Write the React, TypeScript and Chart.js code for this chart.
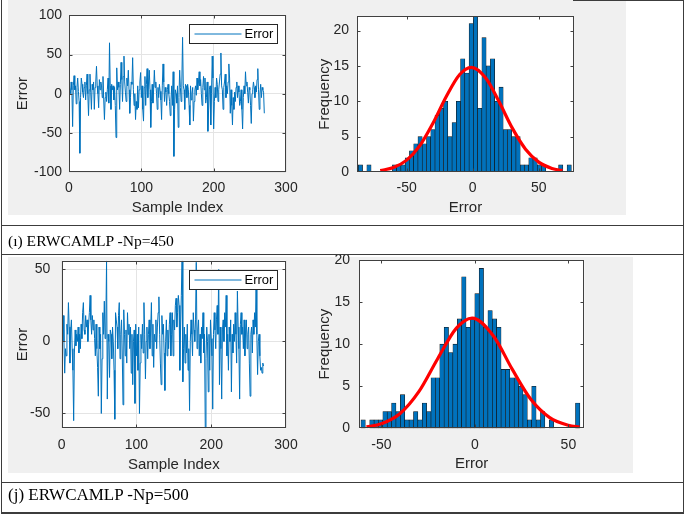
import React, { useEffect, useRef } from 'react';
import { Chart, registerables } from 'chart.js';
Chart.register(...registerables);

const W = 685;
const H = 514;
const FONT = "'Liberation Sans', Arial, sans-serif";
const TXT = '#262626';
const AX = '#404040';
const GRID = '#e4e4e4';
const BLUE = '#0072BD';

// ---------- data ----------
const errorsNp450 = [
  7, 0, 15, 5, -42, 10, 23, 5, 10, -13,
  8, 20, 3, -10, -76, -5, 20, 12, 2, -5,
  8, 15, -8, 10, 25, 0, -28, 5, 25, 2,
  -20, 12, 5, 15, -20, 8, 15, 35, 10, 0,
  -18, 18, 5, 15, 10, -5, 22, -8, -33, -5,
  2, -10, 5, 20, -12, 65, 10, -20, 12, 5,
  10, -8, 8, -15, -56, 33, 5, 15, 8, -20,
  12, 40, 18, -10, 22, 48, 15, 2, -10, 20,
  10, 30, 5, -25, -5, 15, 12, 46, 5, -15,
  0, -33, -10, -20, 10, -18, 5, 15, 27, -5,
  10, -20, -35, 8, 22, -15, 12, 32, -5, 15,
  30, 5, -43, -10, 12, -12, 5, 30, 8, 15,
  0, -20, 8, -5, 12, 3, -8, -33, 10, 38,
  15, -10, 8, 2, -15, 5, 12, 0, -10, -28,
  -8, 10, -15, 28, -80, -20, 5, 0, -12, 10,
  -43, -5, 30, 8, -10, 15, 72, 10, 5, -20,
  12, 10, -5, 12, 5, -15, -40, 10, -8, 0,
  8, -35, -10, 5, 10, -2, 20, 5, 15, 28,
  10, 18, 0, -15, 8, 22, 5, 20, -12, -5,
  15, -48, -22, 5, 10, -40, 0, 48, 20, -45,
  -10, 8, -5, 20, 12, -10, 5, 15, 25, 52,
  10, 5, -20, 8, 15, 25, -5, 10, 0, 15,
  38, 20, -25, 5, -15, -40, -5, -20, 2, -10,
  8, 15, -5, 10, 2, -15, -10, 5, -20, -45,
  -5, 10, 0, 28, 10, 15, 2, -12, 8, 5,
  -15, -38, 0, 5, 15, 8, -5, 10, 2, 18,
  32, 5, -20, 0, 12, -5, 8, 5, 2, -25,
];

const errorsNp500 = [
  5, 18, 0, -22, -5, -10, 12, 5, 27, 10,
  -15, 8, 15, -5, -20, -55, -8, 8, -3, 5,
  0, 10, -8, 5, -5, 12, 2, 20, 27, 8,
  5, 18, 10, 15, 0, 12, 20, 32, 15, 5,
  18, 8, 15, 2, -10, 12, -5, -18, -38, 10,
  -5, 5, -50, -12, 20, 5, 28, 2, 10, 56,
  -40, 5, 0, -25, 8, 5, -12, 10, 0, -20,
  -54, 20, 15, 10, -5, 18, 27, -12, 5, 15,
  -8, -44, 22, 5, -10, 8, -15, 20, 5, 12,
  -5, 10, -22, 5, -30, 0, 8, -43, 12, -10,
  5, -20, 10, -50, -15, 5, -5, 12, -8, 27,
  5, -26, 0, 10, -12, 5, 15, -5, 8, 27,
  -10, 12, -18, 5, 0, 15, -5, 10, 20, 31,
  5, -15, -30, 18, 5, 12, -8, -34, 0, 15,
  -10, 8, -5, 12, 20, -10, 5, 20, -10, 15,
  8, 25, 30, 10, 20, 32, 25, -20, 10, 32,
  56, -28, -5, 10, -15, 5, -8, 12, -20, -5,
  -48, 0, 15, 5, -10, 20, 8, 0, 15, 55,
  -5, 8, 15, -10, 5, -15, 10, 2, 20, -8,
  5, -60, -12, 10, 0, -35, 5, -20, 15, 2,
  -10, -47, 5, 20, 8, -5, 15, 25, 5, 50,
  -30, 10, -5, -40, 8, 15, 0, 20, 10, 32,
  -10, 5, -20, 10, 0, 15, -35, 5, -8, 12,
  0, 20, 5, -15, 35, 10, -5, -40, 12, 20,
  5, 10, -5, 15, -10, 8, 15, -5, 5, 10,
  -15, -38, 5, 10, -8, 15, 5, 20, 10, 36,
  5, -23, 0, 5, -10, -20, -18, -22, -15, -17,
];

const sampleTicks = [0, 100, 200, 300];
const err450Ticks = [-100, -50, 0, 50, 100];
const err500Ticks = [-50, 0, 50];
const histXTicks = [-50, 0, 50];
const freqTicks = [0, 5, 10, 15, 20];

const hist450BinStart = -86.6;
const hist450BinWidth = 3.226;
const hist450Counts = [
  1, 0, 1, 0, 0, 0, 0, 0, 1, 1,
  1, 2, 3, 4, 5, 4, 5, 6, 8, 9,
  10, 5, 7, 10, 16, 14, 21, 22, 9, 19,
  15, 16, 10, 12, 6, 6, 5, 5, 1, 1,
  2, 2, 1, 1, 0, 0, 0, 1, 0, 1,
];
const fit450X = [-70, -60, -50, -40, -30, -20, -10, -1, 10, 20, 30, 40, 50, 60, 68];
const fit450Y = [0.2, 0.63, 1.68, 3.73, 6.92, 10.67, 13.75, 14.8, 13.26, 9.93, 6.2, 3.23, 1.4, 0.51, 0.2];

const hist500BinStart = -60.96;
const hist500BinWidth = 2.342;
const hist500Counts = [
  1, 0, 1, 1, 1, 2, 2, 3, 2, 4,
  1, 1, 2, 1, 3, 2, 6, 6, 10, 12,
  9, 10, 13, 18, 12, 13, 16, 19, 12, 14,
  13, 12, 7, 7, 6, 6, 5, 4, 1, 5,
  1, 2, 0, 1, 0, 0, 0, 0, 0, 3,
];
const fit500X = [-58, -50, -40, -30, -20, -10, -1.5, 10, 20, 30, 40, 50, 56];
const fit500Y = [0.17, 0.54, 1.76, 4.35, 8.24, 11.88, 13.1, 10.95, 7.0, 3.41, 1.27, 0.36, 0.15];

// ---------- helpers ----------
type Frame = {
  left: number; top: number; right: number; bottom: number;
  yTitleX: number; xTitleY: number; xTickY: number; yTickGap: number;
};

const plotBg = {
  id: 'plotBg',
  beforeDraw(chart: any) {
    const { ctx, chartArea: a } = chart;
    ctx.save();
    ctx.fillStyle = '#ffffff';
    ctx.fillRect(a.left, a.top, a.right - a.left, a.bottom - a.top);
    ctx.restore();
  },
};

const boxPlugin = {
  id: 'mbox',
  afterDatasetsDraw(chart: any) {
    const { ctx, chartArea: a, scales } = chart;
    ctx.save();
    ctx.strokeStyle = AX;
    ctx.lineWidth = 1;
    const l = Math.round(a.left) + 0.5, t = Math.round(a.top) + 0.5;
    const r = Math.round(a.right) - 0.5, b = Math.round(a.bottom) - 0.5;
    ctx.strokeRect(l, t, r - l, b - t);
    ctx.beginPath();
    const tl = 3;
    scales.x.ticks.forEach((tk: any) => {
      const p = Math.round(scales.x.getPixelForValue(tk.value)) + 0.5;
      if (p <= l + 1 || p >= r - 1) return;
      ctx.moveTo(p, b); ctx.lineTo(p, b - tl);
      ctx.moveTo(p, t); ctx.lineTo(p, t + tl);
    });
    scales.y.ticks.forEach((tk: any) => {
      const p = Math.round(scales.y.getPixelForValue(tk.value)) + 0.5;
      if (p <= t + 1 || p >= b - 1) return;
      ctx.moveTo(l, p); ctx.lineTo(l + tl, p);
      ctx.moveTo(r, p); ctx.lineTo(r - tl, p);
    });
    ctx.stroke();
    ctx.restore();
  },
};

const legendPlugin = {
  id: 'mlegend',
  afterDatasetsDraw(chart: any) {
    const { ctx, chartArea: a } = chart;
    const w = 88, h = 19;
    const x = Math.round(a.right - 9 - w) + 0.5;
    const y = Math.round(a.top + 9) + 0.5;
    ctx.save();
    ctx.fillStyle = '#fff';
    ctx.fillRect(x, y, w, h);
    ctx.strokeStyle = '#262626';
    ctx.lineWidth = 1;
    ctx.strokeRect(x, y, w, h);
    ctx.strokeStyle = BLUE;
    ctx.beginPath();
    ctx.moveTo(x + 5, y + h / 2);
    ctx.lineTo(x + 52, y + h / 2);
    ctx.stroke();
    ctx.fillStyle = '#000';
    ctx.font = `13px ${FONT}`;
    ctx.textBaseline = 'middle';
    ctx.textAlign = 'left';
    ctx.fillText(chart.data.datasets[0].label, x + 55, y + h / 2 + 0.5);
    ctx.restore();
  },
};

function frameOptions(
  f: Frame, xr: number[], yr: number[], xTicks: number[], yTicks: number[],
  xTitle: string, yTitle: string, grid: boolean,
) {
  const B = H - f.xTitleY - 9;
  const xh = H - B - f.bottom;
  return {
    animation: false,
    responsive: false,
    devicePixelRatio: 1,
    events: [],
    layout: { padding: { left: 0, top: f.top, right: W - f.right, bottom: B } },
    plugins: { legend: { display: false }, tooltip: { enabled: false }, title: { display: false } },
    scales: {
      x: {
        type: 'linear', min: xr[0], max: xr[1], offset: false,
        afterBuildTicks: (s: any) => { s.ticks = xTicks.map((v) => ({ value: v })); },
        afterFit: (s: any) => { s.height = xh; },
        grid: { display: grid, drawOnChartArea: true, drawTicks: false, color: GRID, lineWidth: 1, offset: false },
        border: { display: false },
        ticks: {
          autoSkip: false, maxRotation: 0, minRotation: 0,
          padding: f.xTickY - f.bottom - 8.4, color: TXT,
          font: { family: FONT, size: 14 },
        },
        title: { display: true, text: xTitle, color: TXT, font: { family: FONT, size: 15 }, padding: { top: 0, bottom: 0 } },
      },
      y: {
        type: 'linear', min: yr[0], max: yr[1],
        afterBuildTicks: (s: any) => { s.ticks = yTicks.map((v) => ({ value: v })); },
        afterFit: (s: any) => { s.width = f.left; },
        grid: { display: grid, drawOnChartArea: true, drawTicks: false, color: GRID, lineWidth: 1 },
        border: { display: false },
        ticks: { padding: f.yTickGap, color: TXT, font: { family: FONT, size: 14 } },
        title: { display: true, text: yTitle, color: TXT, font: { family: FONT, size: 15 }, padding: { top: f.yTitleX - 9, bottom: 0 } },
      },
    },
  };
}

function lineConfig(values: number[], f: Frame, yr: number[], yTicks: number[]) {
  return {
    type: 'line',
    data: {
      datasets: [{
        label: 'Error',
        data: values.map((v, i) => ({ x: i + 1, y: v })),
        borderColor: BLUE,
        borderWidth: 1,
        pointRadius: 0,
        tension: 0,
        fill: false,
      }],
    },
    options: frameOptions(f, [0, 300], yr, sampleTicks, yTicks, 'Sample Index', 'Error', true),
    plugins: [plotBg, boxPlugin, legendPlugin],
  };
}

function histConfig(
  counts: number[], start: number, width: number, fitX: number[], fitY: number[],
  f: Frame, xr: number[], yr: number[],
) {
  return {
    type: 'bar',
    data: {
      datasets: [
        {
          type: 'line',
          label: 'fit',
          data: fitX.map((x, i) => ({ x, y: fitY[i] })),
          borderColor: '#ff0000',
          borderWidth: 3.2,
          pointRadius: 0,
          cubicInterpolationMode: 'monotone',
          fill: false,
          order: 0,
        },
        {
          type: 'bar',
          label: 'Frequency',
          data: counts.map((c, i) => ({ x: start + (i + 0.5) * width, y: c === 0 ? null : c })),
          backgroundColor: BLUE,
          borderColor: '#111111',
          borderWidth: 0.6,
          borderSkipped: false,
          barPercentage: 1,
          categoryPercentage: 1,
          order: 1,
        },
      ],
    },
    options: frameOptions(f, xr, yr, histXTicks, freqTicks, 'Error', 'Frequency', false),
    plugins: [plotBg, boxPlugin],
  };
}

function ChartCanvas({ make }: { make: () => any }) {
  const ref = useRef<HTMLCanvasElement | null>(null);
  useEffect(() => {
    const chart = new Chart(ref.current as HTMLCanvasElement, make());
    return () => chart.destroy();
  }, []);
  return (
    <canvas
      ref={ref}
      width={W}
      height={H}
      style={{ position: 'absolute', left: 0, top: 0, width: W, height: H }}
    />
  );
}

const frameLine450: Frame = { left: 69, top: 6, right: 286, bottom: 172, yTitleX: 23, xTitleY: 208, xTickY: 187.7, yTickGap: 7 };
const frameLine500: Frame = { left: 61.7, top: 260.7, right: 286, bottom: 428.3, yTitleX: 23, xTitleY: 465, xTickY: 445, yTickGap: 11.5 };
const frameHist450: Frame = { left: 357, top: 5, right: 574, bottom: 172, yTitleX: 325, xTitleY: 207.7, xTickY: 187.7, yTickGap: 8 };
const frameHist500: Frame = { left: 359, top: 260, right: 584.3, bottom: 428.3, yTitleX: 325, xTitleY: 464.3, xTickY: 445, yTickGap: 9 };

const LINE_C = '#3c3c3c';

function HLine({ y, x1 = 1, x2 = 684, h = 1 }: { y: number; x1?: number; x2?: number; h?: number }) {
  return <div style={{ position: 'absolute', left: x1, top: y, width: x2 - x1, height: h, background: LINE_C }} />;
}
function VLine({ x, y1 = 0, y2 = 514 }: { x: number; y1?: number; y2?: number }) {
  return <div style={{ position: 'absolute', left: x, top: y1, width: 1, height: y2 - y1, background: LINE_C }} />;
}

export default function App() {
  return (
    <div style={{ position: 'absolute', left: 0, top: 0, width: W, height: H, background: '#fff', overflow: 'hidden' }}>
      <div style={{ position: 'absolute', left: 8, top: 0, width: 618, height: 215, background: '#f0f0f0' }} />
      <div style={{ position: 'absolute', left: 8, top: 257, width: 625, height: 216, background: '#f0f0f0' }} />
      <ChartCanvas make={() => lineConfig(errorsNp450, frameLine450, [-100, 100], err450Ticks)} />
      <ChartCanvas make={() => histConfig(hist450Counts, hist450BinStart, hist450BinWidth, fit450X, fit450Y, frameHist450, [-87.6, 76.7], [0, 22])} />
      <ChartCanvas make={() => lineConfig(errorsNp500, frameLine500, [-60.3, 56.1], err500Ticks)} />
      <ChartCanvas make={() => histConfig(hist500Counts, hist500BinStart, hist500BinWidth, fit500X, fit500Y, frameHist500, [-62, 58.5], [0, 20])} />
      <HLine y={0} x1={573} x2={684} />
      <HLine y={225} />
      <HLine y={254} />
      <HLine y={482} />
      <HLine y={512} h={1.5} />
      <VLine x={1} />
      <VLine x={683} />
      <div style={{ position: 'absolute', left: 8, top: 233, fontFamily: "'Liberation Serif', 'Times New Roman', serif", fontSize: 15.6, lineHeight: 1, color: '#000', whiteSpace: 'nowrap' }}>
        (ı) ERWCAMLP -Np=450
      </div>
      <div style={{ position: 'absolute', left: 8, top: 485.5, fontFamily: "'Liberation Serif', 'Times New Roman', serif", fontSize: 17, lineHeight: 1, color: '#000', whiteSpace: 'nowrap' }}>
        (j) ERWCAMLP -Np=500
      </div>
    </div>
  );
}
